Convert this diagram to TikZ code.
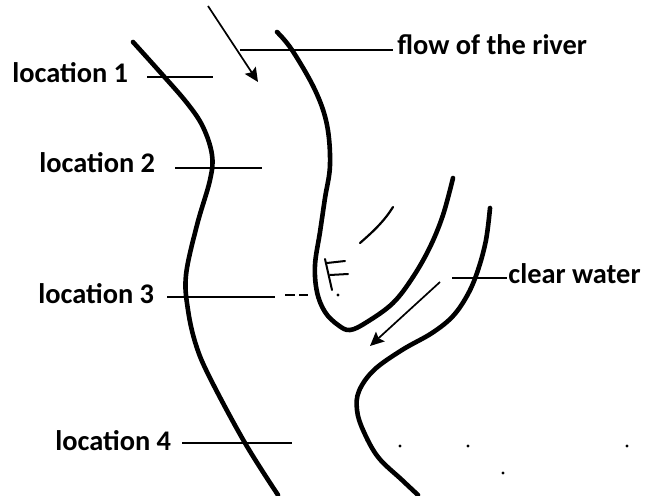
\documentclass[tikz,border=0pt]{standalone}
\usepackage{fontspec}
\setmainfont{Carlito}
\usetikzlibrary{positioning, arrows.meta}

\begin{document}
\begin{tikzpicture}[x=0.5pt, y=-0.5pt, >={Stealth[length=7pt, width=6.5pt, inset=1.2pt]},
        bank/.style={line width=2.3pt, line cap=round, line join=round},
        lead/.style={line width=0.7pt},
        flow/.style={line width=0.85pt, ->},
        lbl/.style={font=\fontsize{14.2}{16}\selectfont\bfseries, inner sep=0pt}]
        \useasboundingbox (0,0) rectangle (646,496);

        % river banks
        \draw[bank] plot[smooth, tension=0.6] coordinates {(133,42) (160,72) (187,103) (203,127) (212,155) (210,180)
            (197,225) (186,275) (188,310) (196,345) (210,378) (245,443) (278,495)};
        \draw[bank] plot[smooth, tension=0.6] coordinates {(277,32) (292,50) (315,90) (327,125) (330,165) (325,198)
            (320,232) (315,265) (317,292) (325,312) (338,325) (350,330) (367,322) (393,303) (413,277) (430,247)
            (443,215) (453,178)};
        \draw[bank] plot[smooth, tension=0.6] coordinates {(490,208) (486,240) (478,270) (468,294) (453,316)
            (432,333) (402,350) (374,370) (359,391) (357,410) (363,430) (378,457) (402,480) (418,495)};

        % little marks in the bend
        \draw[line width=1.1pt, line cap=round] (360,243) .. controls (375,230) and (385,220) .. (393,207);
        \draw[line width=1pt, line cap=round] (325,259) -- (332,290);
        \draw[line width=1pt, line cap=round] (327,263) -- (345,261);
        \draw[line width=1pt, line cap=round] (330,275) -- (348,274);
        \fill (338,295) circle (1.6);

        % arrows showing the current
        \coordinate (fa) at (208,6);
        \coordinate (fb) at (258,82);
        \draw[flow] (fa) -- (fb);
        \coordinate (ca) at (440,282);
        \coordinate (cb) at (370,346);
        \draw[flow] (ca) -- (cb);

        % labels
        \node[lbl, anchor=base west] (river) at (397,55) {flow of the river};
        \node[lbl, anchor=base west] (clear) at (508,283) {clear water};
        \node[lbl, anchor=base west] (loc1) at (12,83) {location 1};
        \node[lbl, anchor=base west] (loc2) at (39,173) {location 2};
        \node[lbl, anchor=base west] (loc3) at (38,303) {location 3};
        \node[lbl, anchor=base west] (loc4) at (55,450) {location 4};

        % leader lines
        \coordinate (r1) at (240,50);   \coordinate (r2) at (393,50);
        \coordinate (c1) at (452,278);  \coordinate (c2) at (507,278);
        \coordinate (a1) at (147,77);   \coordinate (b1) at (213,77);
        \coordinate (a2) at (175,168);  \coordinate (b2) at (262,168);
        \coordinate (a3) at (167,297);  \coordinate (b3) at (275,297);
        \coordinate (a4) at (182,443);  \coordinate (b4) at (292,443);
        \foreach \p/\q in {r1/r2, c1/c2, a1/b1, a2/b2, a3/b3, a4/b4}
            \draw[lead] (\p) -- (\q);
        \draw[lead] (285,295) -- (295,295) (299,295) -- (308,295);

        % dots on the right
        \foreach \d in {(400,446), (468,446), (627,446), (503,473)}
            \fill \d circle (1.6);
    \end{tikzpicture}
\end{document}
